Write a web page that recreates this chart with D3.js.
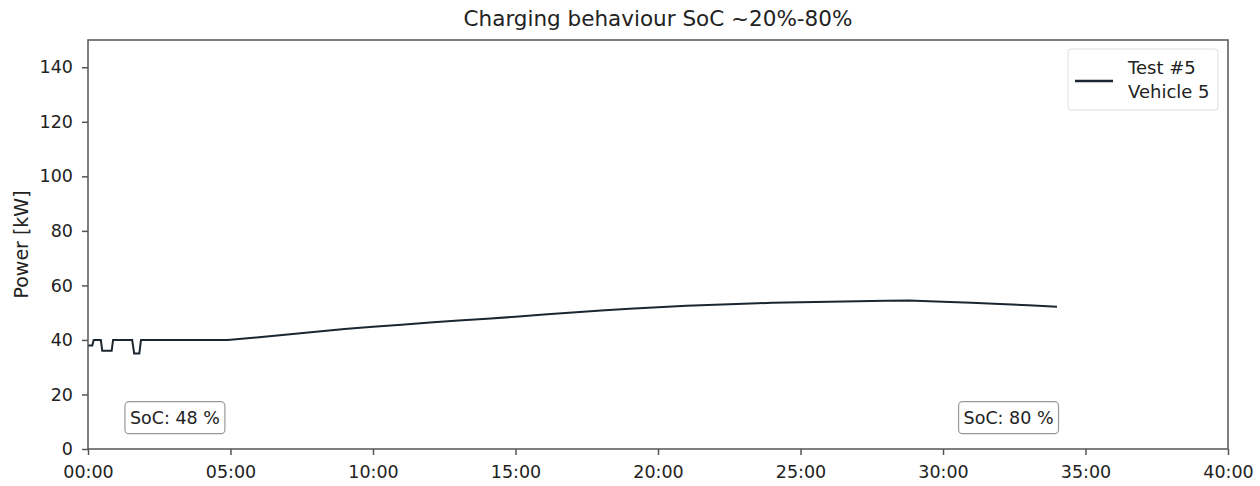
<!DOCTYPE html>
<html>
<head>
<meta charset="utf-8">
<script src="https://cdn.jsdelivr.net/npm/d3@7"></script>
<style>
  body { margin: 0; background: #fff; }
  text { font-family: "DejaVu Sans", sans-serif; fill: #222; }
</style>
</head>
<body>
<script>
// minutes since start, power in kW
let minutes = [0, 0.15, 0.2, 0.45, 0.5, 0.83, 0.88, 1.55, 1.62, 1.8, 1.86, 4.9,
  6, 7, 8, 9, 10, 11, 12, 13, 14, 15, 16, 17, 18, 19, 20, 21, 22, 23, 24, 25,
  26, 27, 28, 28.8, 30, 31, 32, 33, 34];
let power = [38, 38, 40, 40, 36, 36, 40, 40, 35, 35, 40, 40,
  41, 42, 43, 44, 44.8, 45.6, 46.4, 47.1, 47.8, 48.5, 49.3, 50.1, 50.8, 51.4, 52, 52.5, 52.9, 53.3, 53.6, 53.8,
  54, 54.2, 54.4, 54.5, 54.0, 53.6, 53.2, 52.7, 52.2];
let xTicks = [0, 5, 10, 15, 20, 25, 30, 35, 40];
let yTicks = [0, 20, 40, 60, 80, 100, 120, 140];
let seriesLabel = ["Test #5", "Vehicle 5"];
let socNotes = [{ t: 3.05, text: "SoC: 48 %" }, { t: 32.3, text: "SoC: 80 %" }];

let canvasW = 1260;
let canvasH = 486;
let mLeft = 88, mRight = 1228, mTop = 40, mBottom = 449;

let svg = d3.select("body").append("svg")
  .attr("width", canvasW)
  .attr("height", canvasH);

let x = d3.scaleLinear().domain([0, 40]).range([mLeft, mRight]);
let y = d3.scaleLinear().domain([0, 150]).range([mBottom, mTop]);

let pts = minutes.map((m, i) => [m, power[i]]);

// line
svg.append("path")
  .datum(pts)
  .attr("fill", "none")
  .attr("stroke", "#1b2631")
  .attr("stroke-width", 2)
  .attr("d", d3.line().x(d => x(d[0])).y(d => y(d[1])));

// frame
svg.append("rect")
  .attr("x", mLeft).attr("y", mTop)
  .attr("width", mRight - mLeft).attr("height", mBottom - mTop)
  .attr("fill", "none").attr("stroke", "#555").attr("stroke-width", 1.5);

let fmt = m => String(m).padStart(2, "0") + ":00";

let xAxis = svg.append("g")
  .attr("transform", `translate(0,${mBottom})`)
  .call(d3.axisBottom(x).tickValues(xTicks).tickFormat(fmt).tickSize(6).tickPadding(11));
let yAxis = svg.append("g")
  .attr("transform", `translate(${mLeft},0)`)
  .call(d3.axisLeft(y).tickValues(yTicks).tickSize(6).tickPadding(9));

[xAxis, yAxis].forEach(a => {
  a.select(".domain").remove();
  a.selectAll(".tick line").attr("stroke", "#555").attr("stroke-width", 1.5);
  a.selectAll("text").attr("font-size", "17.5px").attr("font-family", "DejaVu Sans").attr("fill", "#222");
});

// title
svg.append("text")
  .attr("x", (mLeft + mRight) / 2).attr("y", 26)
  .attr("text-anchor", "middle")
  .attr("font-size", "21.5px")
  .text("Charging behaviour SoC ~20%-80%");

// y label
svg.append("text")
  .attr("transform", `translate(28,${(mTop + mBottom) / 2}) rotate(-90)`)
  .attr("text-anchor", "middle")
  .attr("font-size", "19px")
  .text("Power [kW]");

// SoC notes
socNotes.forEach(n => {
  let g = svg.append("g").attr("transform", `translate(${x(n.t)},${y(11.5)})`);
  let t = g.append("text")
    .attr("text-anchor", "middle")
    .attr("dy", "0.35em")
    .attr("font-size", "17.5px")
    .text(n.text);
  let bb = t.node().getBBox();
  g.insert("rect", "text")
    .attr("x", bb.x - 5).attr("y", -16)
    .attr("width", bb.width + 10).attr("height", 32)
    .attr("rx", 4)
    .attr("fill", "#fff").attr("stroke", "#999").attr("stroke-width", 1.2);
});

// legend
let lg = svg.append("g");
lg.append("rect")
  .attr("x", 1068).attr("y", 49).attr("width", 150).attr("height", 61)
  .attr("rx", 3)
  .attr("fill", "#fff").attr("stroke", "#ddd").attr("stroke-width", 1);
lg.append("line")
  .attr("x1", 1075).attr("x2", 1113).attr("y1", 81).attr("y2", 81)
  .attr("stroke", "#1b2631").attr("stroke-width", 2.5);
lg.selectAll("text.lbl")
  .data(seriesLabel)
  .join("text")
  .attr("class", "lbl")
  .attr("x", 1128)
  .attr("y", (d, i) => 74 + i * 24)
  .attr("font-size", "18px")
  .text(d => d);
</script>
</body>
</html>
